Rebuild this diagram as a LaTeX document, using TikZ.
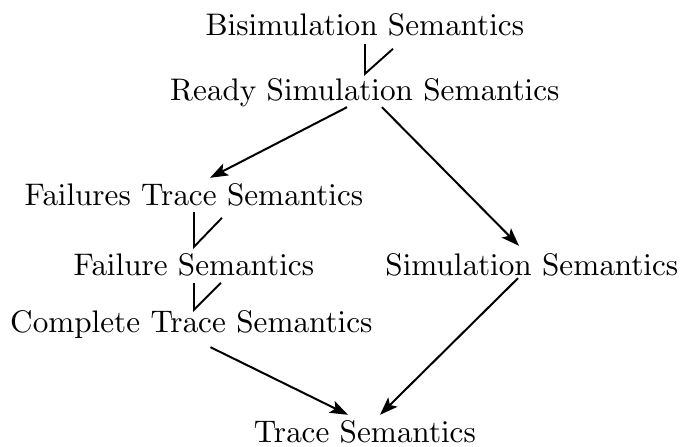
\documentclass[tikz,border=0pt]{standalone}
\usepackage{tikz}
\usetikzlibrary{arrows.meta}
\font\semfont=cmr10 at 31.2pt

\begin{document}
\begin{tikzpicture}[x=1pt,y=-1pt,
  sem/.style={inner sep=0pt,anchor=base,text height=22pt,text depth=7pt,
    font=\semfont},
  imp/.style={-{Stealth[length=18pt,width=13pt,inset=4pt]},line width=2pt},
  tick/.style={line width=1.9pt}]
  \useasboundingbox (0,0) rectangle (683,447);
  \node[sem] (bisim) at (365,35) {Bisimulation Semantics};
  \node[sem] (ready) at (365,100) {Ready Simulation Semantics};
  \node[sem] (ftrace) at (194,205) {Failures Trace Semantics};
  \node[sem] (failure) at (194,275) {Failure Semantics};
  \node[sem] (complete) at (191.5,332) {Complete Trace Semantics};
  \node[sem] (sim) at (532,275) {Simulation Semantics};
  \node[sem] (trace) at (365,442) {Trace Semantics};
  \draw[tick] ([yshift=-2pt]bisim.south) -- ([yshift=4pt]ready.north) -- ++(28,-25);
  \draw[tick] (ftrace.south) -- ([yshift=6pt]failure.north) -- ++(28,-29);
  \draw[tick] ([xshift=2.5pt,yshift=-1pt]complete.north |- failure.south)
    -- ([xshift=2.5pt]complete.north) -- ++(27,-27);
  \draw[imp] ([xshift=-18pt]ready.south) -- ([xshift=16pt,yshift=5pt]ftrace.north);
  \draw[imp] ([xshift=17pt]ready.south) -- ([xshift=-13pt,yshift=7pt]sim.north);
  \draw[imp] ([xshift=-14pt,yshift=4pt]sim.south) -- ([xshift=15pt,yshift=5pt]trace.north);
  \draw[imp] ([xshift=19pt,yshift=-8pt]complete.south) -- ([xshift=-17pt,yshift=5pt]trace.north);
\end{tikzpicture}
\end{document}
